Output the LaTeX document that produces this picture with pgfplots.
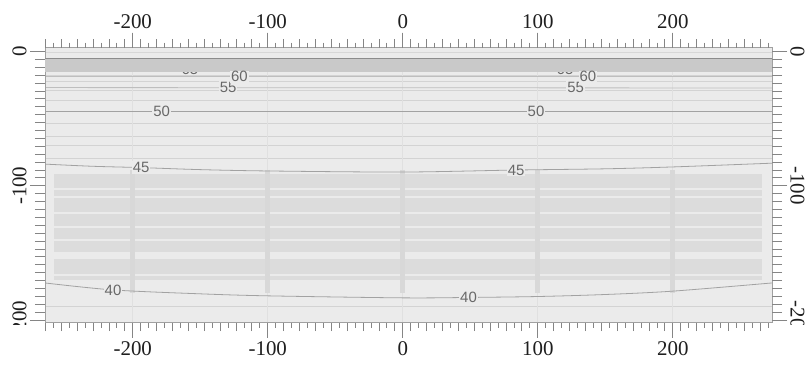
\documentclass[border=0pt]{standalone}
\usepackage{pgfplots}
\pgfplotsset{compat=1.18}
\usepackage{fontspec}
\setmainfont{Liberation Serif}
\newfontfamily\lblfont{Liberation Sans}
\definecolor{bg}{HTML}{EBEBEB}
\definecolor{band}{HTML}{C9C9C9}
\definecolor{stripe}{HTML}{DCDCDC}
\definecolor{hline}{HTML}{D3D3D3}
\definecolor{cline}{HTML}{A2A2A2}
\definecolor{topline}{HTML}{8C8C8C}
\definecolor{vline}{HTML}{D8D8D8}
\definecolor{tickc}{HTML}{858585}
\definecolor{boxc}{HTML}{A0A0A0}
\definecolor{lbl}{HTML}{686868}

\pgfplotstableread{
x y
-265 -83.9
-230 -85.5
-193.8 -86.5
-150 -88
-100 -89
0 -89.8
84 -88.3
150 -87.4
200 -86
273.5 -83.2
}\cfortyfive

\pgfplotstableread{
x y
-265 -172.4
-214.6 -177.6
-150 -180.5
-100 -182
0 -183.5
48.7 -183.2
100 -182.5
150 -181
200 -178.5
273.5 -172.4
}\cforty

\pgfplotstableread{
x y lab
-178.6 -44.4 50
98.7 -44.4 50
-129.4 -26.9 55
128 -26.9 55
-121 -18.9 60
137.2 -18.9 60
-193.8 -86.5 45
84 -88.3 45
-214.6 -177.6 40
48.7 -183.2 40
}\labels

\pgfplotstableread{
x y lab
-157.6 -13.3 65
120.2 -13.3 65
}\labelstop

\pgfplotsset{
  base/.style={
    scale only axis, width=727bp, height=275bp,
    at={(45bp,44.3bp)}, anchor=south west,
    xmin=-265, xmax=273.5, ymin=-202, ymax=2.8,
    tick align=outside,
    /pgf/number format/assume math mode=true,
    tick label style={font=\fontsize{21}{21}\selectfont, text=black!88},
    every tick/.style={draw=tickc, line width=0.8bp},
  },
  hl/.style={draw=hline, line width=1bp},
  gapl/.style={draw=bg, line width=2.2bp},
}

\newcommand{\hlline}[1]{\addplot[hl] coordinates {(-265,#1) (273.5,#1)};}
\newcommand{\gapline}[1]{\addplot[gapl] coordinates {(-258,#1) (266,#1)};}

\begin{document}
\begin{tikzpicture}
% ---------- content, lower layer ----------
\begin{axis}[base, axis background/.style={fill=bg},
  xtick=\empty, ytick=\empty,
  axis line style={draw=boxc, line width=0.8bp}]
  \addplot[draw=hline!90, line width=1.5bp] coordinates {(-265,-0.6) (273.5,-0.6)};
  % striped lower region
  \addplot[fill=stripe, draw=none] coordinates {(-258,-91.4) (266,-91.4) (266,-170.5) (-258,-170.5)} -- cycle;
  \gapline{-102.5}
  \gapline{-108.4}
  \gapline{-120.3}
  \gapline{-130.7}
  \gapline{-140.4}
  \addplot[fill=bg, draw=none] coordinates {(-258,-149.6) (266,-149.6) (266,-154.6) (-258,-154.6)} -- cycle;
  \gapline{-166.4}
  \hlline{-18.0}
  \hlline{-22.6}
  \hlline{-29.3}
  \hlline{-36.2}
  \hlline{-54.0}
  \hlline{-63.0}
  \hlline{-70.4}
  \hlline{-79.4}
  \hlline{-190.3}
  \foreach \xv in {-200,-100,0,100,200} {
    \edef\tmp{\noexpand\addplot[draw=vline!80!white, line width=1bp] coordinates {(\xv,-15) (\xv,-202)};}\tmp
    \edef\tmp{\noexpand\addplot[draw=vline, line width=5bp] coordinates {(\xv,-88) (\xv,-180)};}\tmp
  }
  \addplot[draw=cline, line width=0.8bp] coordinates {(-265,-44.4) (273.5,-44.4)};
  \addplot[draw=cline!70!white, line width=0.8bp] coordinates {(-265,-26.9) (273.5,-27.2)};
  \addplot[draw=cline!70!white, line width=0.8bp] coordinates {(-265,-18.9) (273.5,-18.9)};
  \addplot[draw=cline, line width=0.8bp, smooth] table {\cfortyfive};
  \addplot[draw=cline, line width=0.8bp, smooth] table {\cforty};
  \addplot[draw=none, mark=none, nodes near coords, point meta=explicit symbolic,
    nodes near coords style={anchor=center, font=\lblfont\fontsize{15}{15}\selectfont, text=lbl, inner sep=0.5bp}]
    table[meta=lab] {\labelstop};
\end{axis}
% ---------- content, upper layer ----------
\begin{axis}[base, xtick=\empty, ytick=\empty,
  axis line style={draw=boxc, line width=0.8bp}]
  \addplot[fill=band, draw=none] coordinates {(-265,-5.3) (273.5,-5.3) (273.5,-15.1) (-265,-15.1)} -- cycle;
  \addplot[draw=topline, line width=1.1bp] coordinates {(-265,-5.3) (273.5,-5.3)};
  \addplot[draw=none, mark=none, nodes near coords, point meta=explicit symbolic,
    nodes near coords style={anchor=center, font=\lblfont\fontsize{15}{15}\selectfont, text=lbl, fill=bg, inner sep=1bp}]
    table[meta=lab] {\labels};
\end{axis}
% ---------- x ticks, bottom labels ----------
\begin{axis}[base, hide y axis,
  axis line style={draw=none},
  xtick={-200,-100,0,100,200}, xtick pos=both, xticklabel pos=left,
  major tick length=15bp, minor tick length=5bp,
  minor xtick={-264.7059,-258.8235,...,272},
  extra x ticks={-264.7059,-252.9412,...,272},
  extra x tick labels={},
  extra x tick style={major tick length=8.5bp}]
\end{axis}
% ---------- top labels ----------
\begin{axis}[base, hide y axis,
  axis line style={draw=none},
  xtick={-200,-100,0,100,200}, xtick pos=right, xticklabel pos=right,
  major tick length=15bp]
\end{axis}
% ---------- y ticks and clipped labels ----------
\begin{scope}
\clip (0bp,42bp) rectangle (811bp,321bp);
\begin{axis}[base, hide x axis,
  axis line style={draw=none},
  ytick={0,-100,-200}, ytick pos=both, yticklabel pos=left,
  major tick length=15bp, minor tick length=10bp,
  minor ytick={0,-5.8824,...,-202},
  yticklabel style={rotate=90, anchor=south}]
\end{axis}
\begin{axis}[base, hide x axis,
  axis line style={draw=none},
  ytick={0,-100,-200}, ytick pos=right, yticklabel pos=right,
  major tick length=15bp,
  yticklabel style={rotate=-90, anchor=south}]
\end{axis}
\end{scope}
\pgfresetboundingbox
\path[use as bounding box] (0bp,0bp) rectangle (811bp,367bp);
\end{tikzpicture}
\end{document}
